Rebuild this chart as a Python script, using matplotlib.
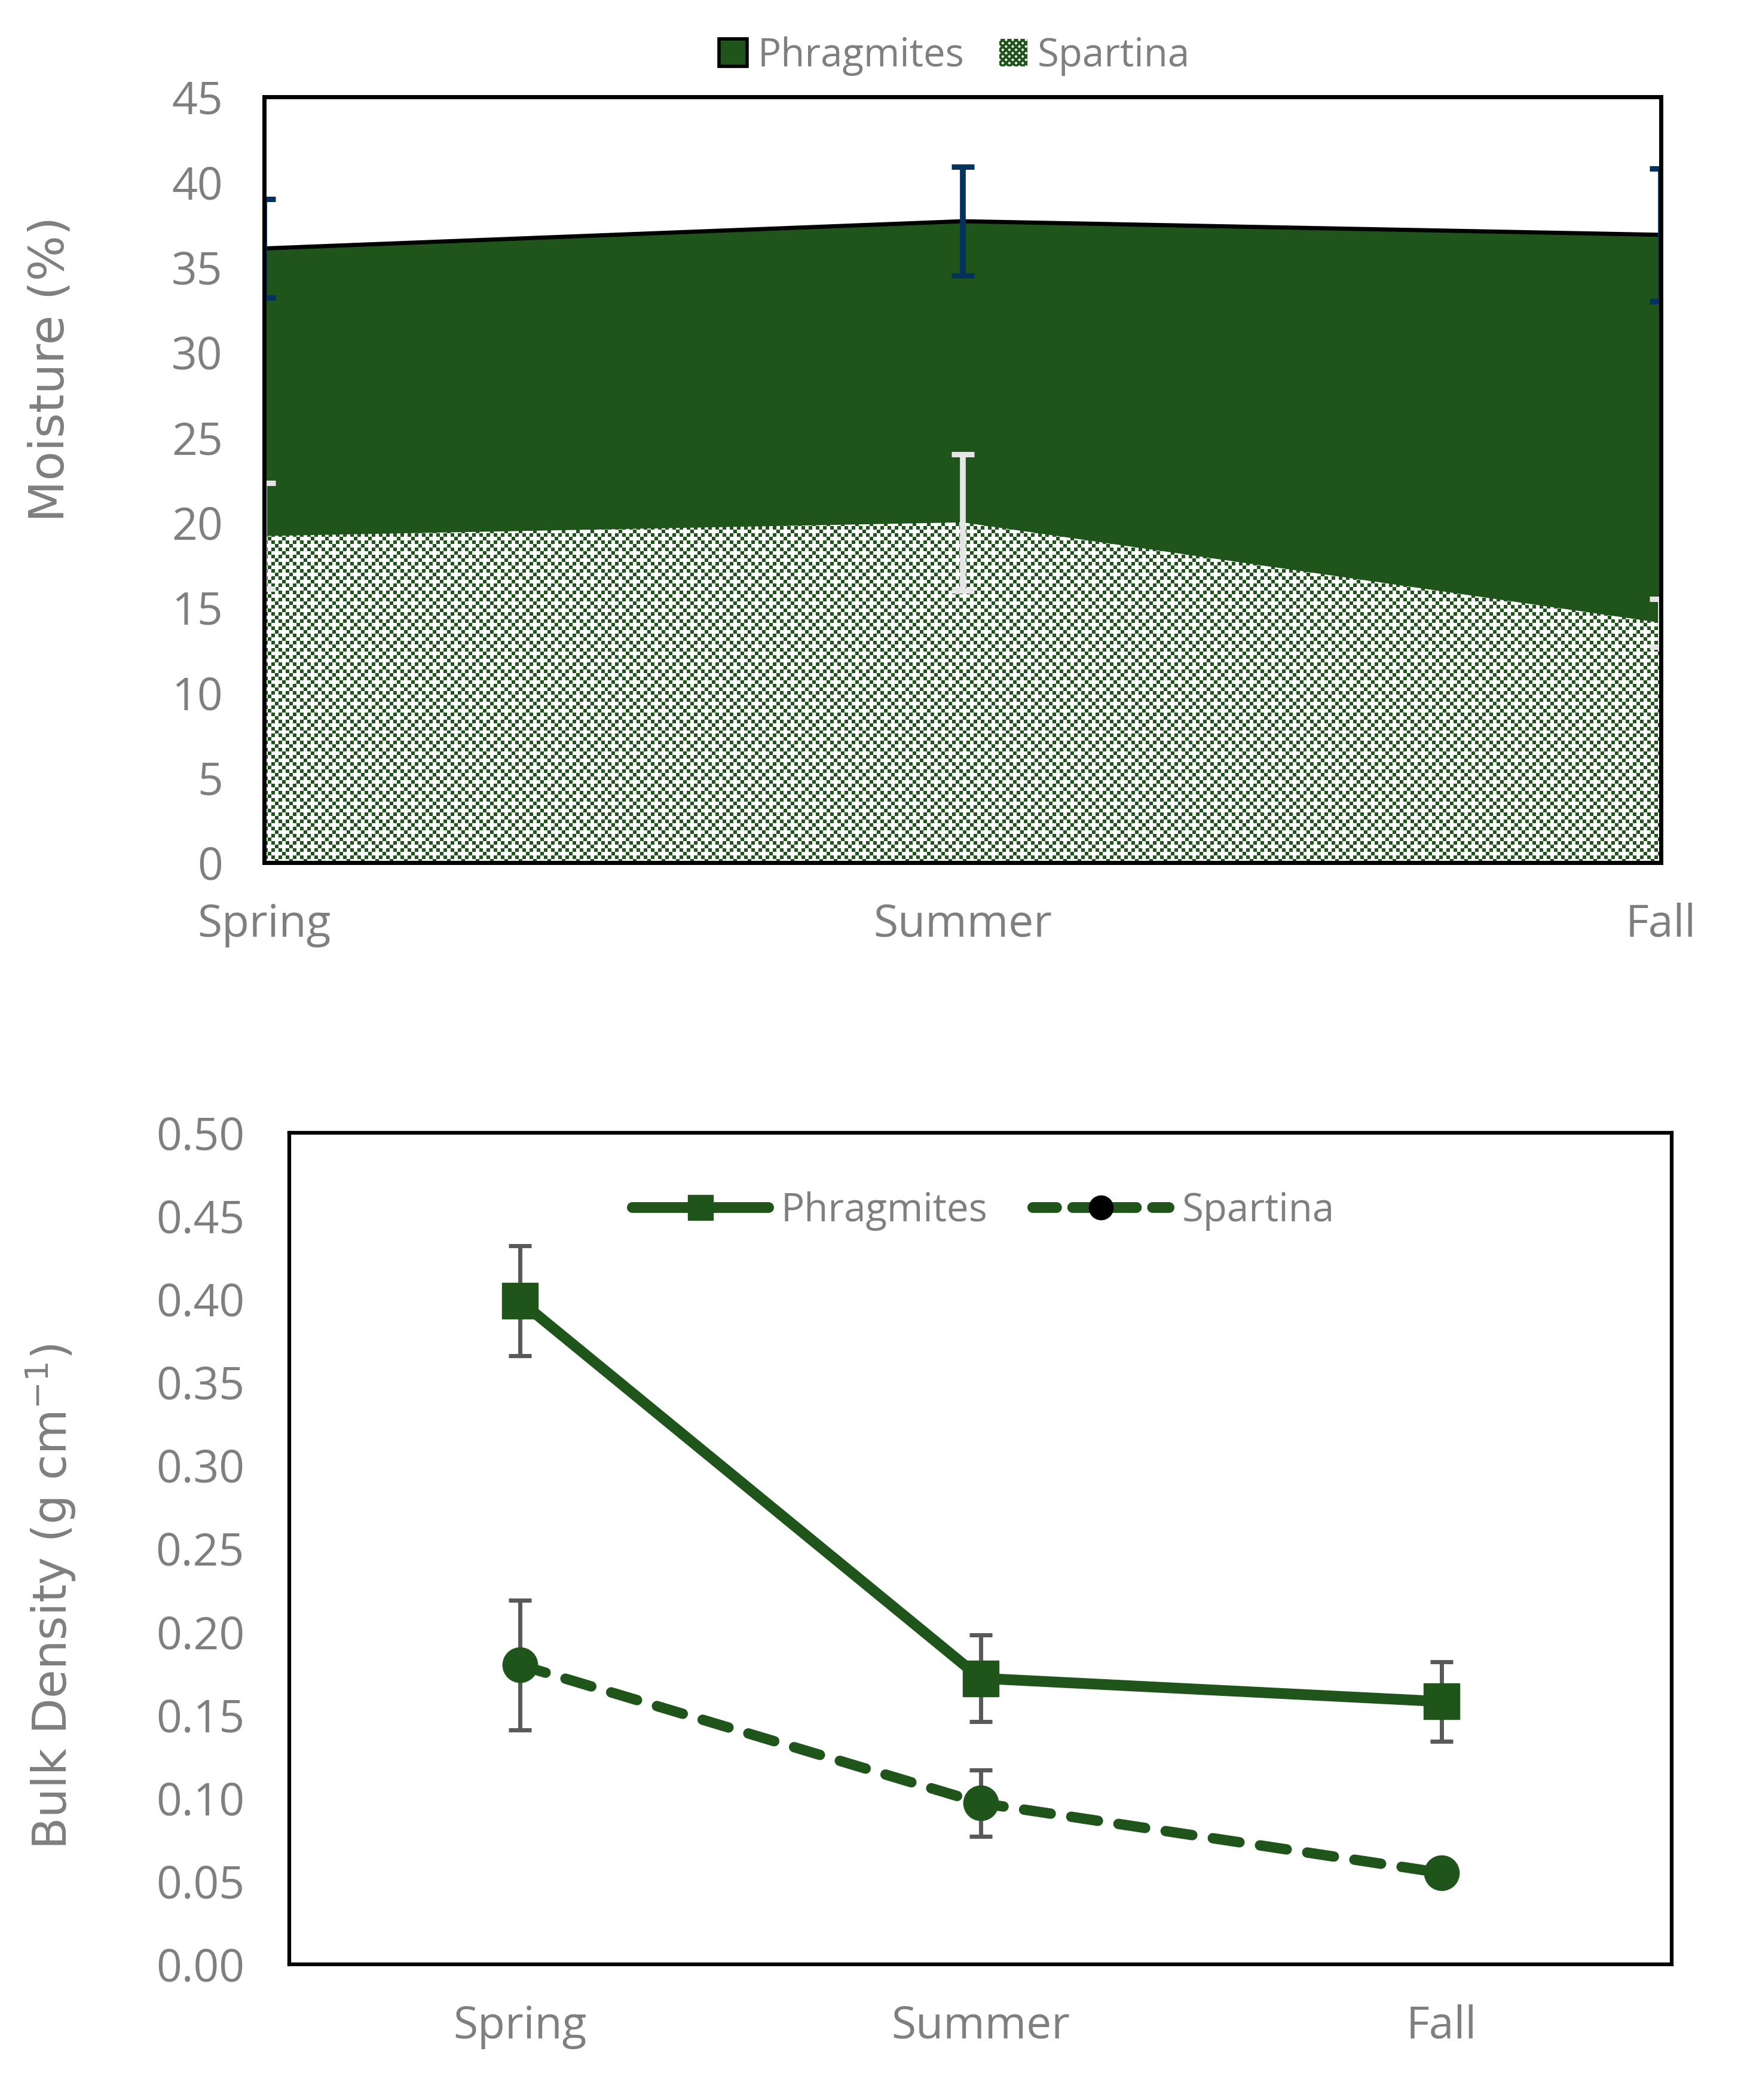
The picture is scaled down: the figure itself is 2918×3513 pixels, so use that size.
import numpy as np
import matplotlib
matplotlib.use('Agg')
import matplotlib.pyplot as plt
from matplotlib.colors import ListedColormap
from matplotlib.lines import Line2D
from matplotlib.patches import Patch
from matplotlib.ticker import FormatStrFormatter, MultipleLocator

seasons = ['Spring', 'Summer', 'Fall']

# moisture (%)
moist_phrag = [36.1, 37.7, 36.9]
moist_phrag_err = [2.9, 3.2, 3.9]
moist_spart = [19.2, 20.0, 14.1]
moist_spart_err = [3.1, 4.0, 1.4]

# bulk density (g cm-1)
bd_phrag = [0.399, 0.172, 0.158]
bd_phrag_err = [0.033, 0.026, 0.024]
bd_spart = [0.180, 0.097, 0.055]
bd_spart_err = [0.039, 0.020, 0.004]

green = '#1F551B'
grey = '#7F7F7F'
tick_font = 'Open Sans'
label_font = 'DejaVu Sans'

plt.rcParams['hatch.linewidth'] = 3.0

fig = plt.figure(figsize=(29.18, 35.13), dpi=100)

# ---------------- top: moisture area chart ----------------
ax1 = fig.add_axes([0.1515, 0.5892, 0.8009, 0.3646])
x = np.arange(len(seasons))

ax1.fill_between(x, 0, moist_phrag, facecolor=green, edgecolor='none', zorder=1)
ax1.plot(x, moist_phrag, color='black', lw=5, zorder=2, solid_capstyle='butt')

# small checker pattern for Spartina, clipped to its area
tile = np.array([[1, 0, 1, 0],
                 [0, 0, 0, 1],
                 [1, 0, 1, 0],
                 [0, 1, 0, 0]])
rows, cols = 214, 390
pattern = np.tile(tile, (rows // 4 + 1, cols // 4 + 1))[:rows, :cols]
im = ax1.imshow(pattern, extent=(0, 2, 0, 45), aspect='auto', origin='upper',
                interpolation='nearest', cmap=ListedColormap(['white', green]),
                zorder=3)
spart_area = ax1.fill_between(x, 0, moist_spart, facecolor='none',
                              edgecolor='none', zorder=3)
im.set_clip_path(spart_area.get_paths()[0], ax1.transData)

ax1.errorbar(x, moist_phrag, yerr=moist_phrag_err, fmt='none', ecolor='#03325F',
             elinewidth=7, capsize=14, capthick=6.5, zorder=5)
ax1.errorbar(x, moist_spart, yerr=moist_spart_err, fmt='none', ecolor='#E7E6E6',
             elinewidth=7, capsize=14, capthick=6.5, zorder=5)

ax1.set_xlim(0, 2)
ax1.set_ylim(0, 45)
ax1.yaxis.set_major_locator(MultipleLocator(5))
ax1.set_xticks(x)
ax1.set_xticklabels(seasons)
ax1.tick_params(axis='both', length=0, labelsize=54, labelcolor=grey)
ax1.tick_params(axis='x', pad=48)
ax1.tick_params(axis='y', pad=50)
for lab in ax1.get_xticklabels() + ax1.get_yticklabels():
    lab.set_fontfamily(tick_font)
for sp in ax1.spines.values():
    sp.set_linewidth(5)
    sp.set_color('black')
    sp.set_zorder(6)

leg1_handles = [Patch(facecolor=green, edgecolor='black', lw=4),
                Patch(facecolor='white', edgecolor=green, hatch='xxx', lw=0)]
ax1.legend(leg1_handles, ['Phragmites', 'Spartina'], loc='center',
           bbox_to_anchor=(1597 / 2918, 1 - 94 / 3513), bbox_transform=fig.transFigure,
           ncol=2, frameon=False, handlelength=0.72, handleheight=0.72,
           handletextpad=0.26, columnspacing=0.9,
           prop={'family': tick_font, 'size': 47}, labelcolor=grey)

fig.text(85 / 2918, 1 - 617 / 3513, 'Moisture (%)', rotation=90, ha='center',
         va='center', fontsize=58, color=grey, family=label_font)

# ---------------- bottom: bulk density line chart ----------------
ax2 = fig.add_axes([0.1659, 0.0646, 0.7927, 0.3960])

ax2.errorbar(x, bd_phrag, yerr=bd_phrag_err, fmt='none', ecolor='#595959',
             elinewidth=5, capsize=14, capthick=5, zorder=2)
ax2.errorbar(x, bd_spart, yerr=bd_spart_err, fmt='none', ecolor='#595959',
             elinewidth=5, capsize=14, capthick=5, zorder=2)
ax2.plot(x, bd_phrag, color=green, lw=13, marker='s', ms=43,
         solid_capstyle='round', solid_joinstyle='round', zorder=3)
ax2.plot(x, bd_spart, color=green, lw=12.5, marker='o', ms=42, dashes=(2.6, 2.0),
         dash_capstyle='round', zorder=3)

ax2.set_xlim(-0.5, 2.5)
ax2.set_ylim(0, 0.5)
ax2.yaxis.set_major_locator(MultipleLocator(0.05))
ax2.yaxis.set_major_formatter(FormatStrFormatter('%.2f'))
ax2.set_xticks(x)
ax2.set_xticklabels(seasons)
ax2.tick_params(axis='both', length=0, labelsize=54, labelcolor=grey)
ax2.tick_params(axis='x', pad=48)
ax2.tick_params(axis='y', pad=54)
for lab in ax2.get_xticklabels() + ax2.get_yticklabels():
    lab.set_fontfamily(tick_font)
for sp in ax2.spines.values():
    sp.set_linewidth(4.5)
    sp.set_color('black')

leg2_handles = [Line2D([], [], color=green, lw=13, marker='s', ms=30,
                       solid_capstyle='round'),
                Line2D([], [], color=green, lw=13, dashes=(2.2, 1.5),
                       dash_capstyle='round', marker='o', ms=29,
                       markerfacecolor='black', markeredgecolor='black')]
ax2.legend(leg2_handles, ['Phragmites', 'Spartina'], loc='center',
           bbox_to_anchor=(1645 / 2918, 1 - 2026 / 3513), bbox_transform=fig.transFigure,
           ncol=2, frameon=False, handlelength=3.5, handletextpad=0.32,
           columnspacing=1.15, prop={'family': tick_font, 'size': 47},
           labelcolor=grey)

fig.text(85 / 2918, 1 - 2671 / 3513, 'Bulk Density (g cm$^{\\mathregular{-1}}$)',
         rotation=90, ha='center', va='center', fontsize=56, color=grey,
         family=label_font)

fig.savefig('out.png', dpi=100, facecolor='white')
